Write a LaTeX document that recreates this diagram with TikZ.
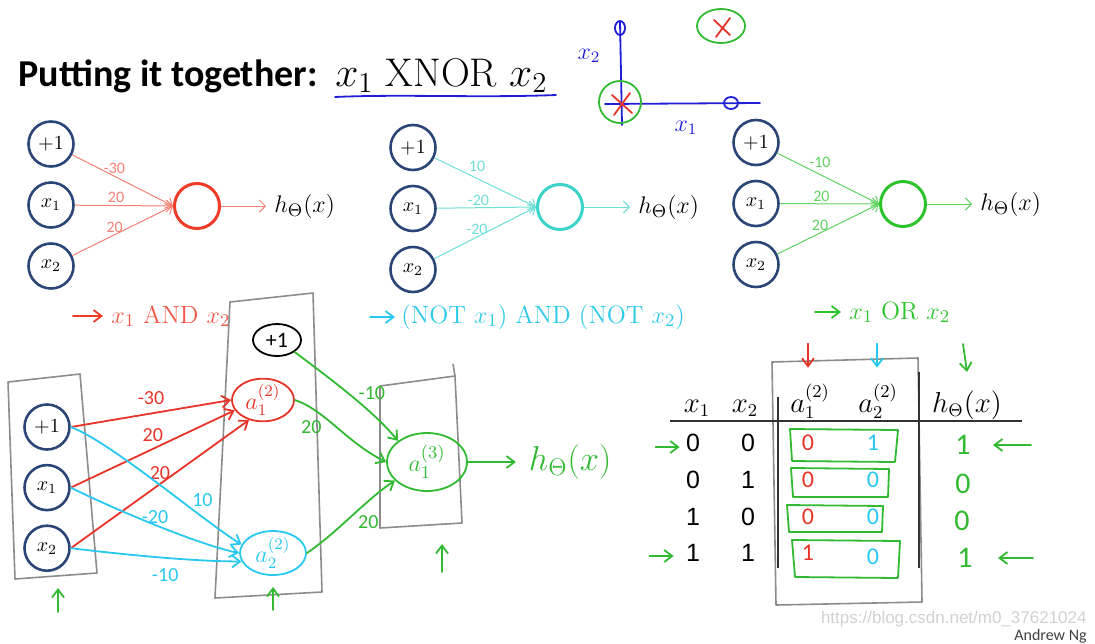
\documentclass[tikz,border=0pt]{standalone}
\usepackage{amsmath}
\usepackage{fontspec}
\setsansfont{Carlito}
\newfontfamily\tabfont{Liberation Sans}
\usetikzlibrary{arrows.meta,positioning,shapes.geometric,calc}
\definecolor{NodeBlue}{RGB}{43,70,118}
\definecolor{AndRed}{RGB}{238,60,40}
\definecolor{NotCyan}{RGB}{60,212,200}
\definecolor{OrGreen}{RGB}{45,195,45}
\definecolor{PenRed}{RGB}{232,52,40}
\definecolor{PenCyan}{RGB}{40,200,240}
\definecolor{PenGreen}{RGB}{50,185,50}
\definecolor{PenBlue}{RGB}{30,30,215}
\definecolor{BoxGrey}{RGB}{140,140,140}
\newcommand{\fsz}[1]{\fontsize{#1}{#1}\selectfont}

\begin{document}
\begin{tikzpicture}[
    x=0.5pt, y=-0.5pt,
    inp/.style={circle, draw=NodeBlue, line width=1.3pt, minimum size=22.5pt, inner sep=0pt, font=\fsz{10}},
    outp/.style={circle, line width=1.5pt, minimum size=22.5pt, inner sep=0pt},
    wgt/.style={font=\sffamily\fsz{8}, inner sep=1pt},
    net/.style={-{Straight Barb[length=3pt]}, line width=0.5pt},
    hlabel/.style={font=\fsz{12.5}, inner sep=0pt},
    pen/.style={line width=0.9pt, line cap=round, line join=round},
    penarr/.style={pen, -{Straight Barb[length=4pt, width=6pt]}},
    hand/.style={font=\sffamily\fsz{10}, inner sep=1pt},
    sketch/.style={draw=BoxGrey, line width=0.8pt, line join=round},
    unit/.style={ellipse, line width=0.9pt, inner sep=0pt},
    tmath/.style={font=\fsz{13.5}, anchor=base, inner sep=0pt},
    tdigit/.style={font=\tabfont\fsz{12.5}, inner sep=0pt},
    tpen/.style={font=\sffamily\fsz{12}, inner sep=0pt}
]
    \useasboundingbox (0,0) rectangle (1095,643);

    % title
    \node[font=\sffamily\bfseries\fsz{19}, anchor=base west, inner sep=0pt] (title) at (18,86) {Putting it together:};
    \node[font=\fsz{20}, anchor=base west, inner sep=0pt] (xnor) at (335,86) {$x_1$ XNOR $x_2$};
    \draw[pen, PenBlue] (335,97) .. controls (400,94) and (480,98) .. (556,95);

    % little x1-x2 plot
    \draw[pen, PenBlue] (620,22) -- (622,125);
    \draw[pen, PenBlue] (605,104) -- (760,103);
    \draw[pen, PenBlue] (620,28) ellipse (5 and 7);
    \draw[pen, PenBlue] (731,103) ellipse (7 and 6);
    \draw[pen, PenRed] (612,95) -- (632,113) (630,93) -- (614,115);
    \draw[pen, PenGreen] (620,102) ellipse (21 and 21);
    \draw[pen, PenRed] (714,20) -- (730,35) (730,18) -- (716,37);
    \draw[pen, PenGreen] (721,26) ellipse (24 and 17);
    \node[font=\fsz{12}, text=PenBlue] (px2) at (589,56) {$x_2$};
    \node[font=\fsz{12}, text=PenBlue] (px1) at (686,128) {$x_1$};

    % AND unit
    \node[inp] (and0) at (51,144) {$+1$};
    \node[inp, below=6.7pt of and0] (and1) {$x_1$};
    \node[inp, below=6.7pt of and1] (and2) {$x_2$};
    \node[outp, draw=AndRed] (andout) at (197,206) {};
    \node[hlabel, right=26.5pt of andout] (andh) {$h_\Theta(x)$};
    \draw[net, AndRed!65] (and0) -- node[wgt, pos=0.42, above] {-30} (andout.west);
    \draw[net, AndRed!65] (and1) -- node[wgt, pos=0.42, above] {20} (andout.west);
    \draw[net, AndRed!65] (and2) -- node[wgt, pos=0.42, above] {20} (andout.west);
    \draw[net, AndRed!65, shorten >=4pt] (andout) -- (andh);

    % (NOT x1) AND (NOT x2) unit
    \node[inp] (not0) at (413,147.5) {$+1$};
    \node[inp, below=6.7pt of not0] (not1) {$x_1$};
    \node[inp, below=6.7pt of not1] (not2) {$x_2$};
    \node[outp, draw=NotCyan] (notout) at (560,207) {};
    \node[hlabel, right=27pt of notout] (noth) {$h_\Theta(x)$};
    \draw[net, NotCyan!75] (not0) -- node[wgt, pos=0.42, above=2pt] {10} (notout.west);
    \draw[net, NotCyan!75] (not1) -- node[wgt, pos=0.42, above] {-20} (notout.west);
    \draw[net, NotCyan!75] (not2) -- node[wgt, pos=0.42, above] {-20} (notout.west);
    \draw[net, NotCyan!75, shorten >=4pt] (notout) -- (noth);

    % OR unit
    \node[inp] (or0) at (756,142.5) {$+1$};
    \node[inp, below=6.7pt of or0] (or1) {$x_1$};
    \node[inp, below=6.7pt of or1] (or2) {$x_2$};
    \node[outp, draw=OrGreen] (orout) at (903,204) {};
    \node[hlabel, right=26.5pt of orout] (orh) {$h_\Theta(x)$};
    \draw[net, OrGreen!75] (or0) -- node[wgt, pos=0.42, above=2pt] {-10} (orout.west);
    \draw[net, OrGreen!75] (or1) -- node[wgt, pos=0.42, above] {20} (orout.west);
    \draw[net, OrGreen!75] (or2) -- node[wgt, pos=0.42, above] {20} (orout.west);
    \draw[net, OrGreen!75, shorten >=4pt] (orout) -- (orh);

    % what each unit computes
    \node[font=\fsz{12.5}, text=AndRed!85, anchor=west, inner sep=0pt] (andlbl) at (111,316) {$x_1$ AND $x_2$};
    \node[font=\fsz{12.5}, text=PenCyan!80!NotCyan, anchor=west, inner sep=0pt] (notlbl) at (401,317) {(NOT $x_1$) AND (NOT $x_2$)};
    \node[font=\fsz{12.5}, text=OrGreen, anchor=west, inner sep=0pt] (orlbl) at (849,312) {$x_1$ OR $x_2$};
    \coordinate (andarr) at (73,316);
    \coordinate (notarr) at (370,317);
    \coordinate (orarr) at (815,312);
    \draw[penarr, AndRed] (andarr) -- ([xshift=-4pt]andlbl.west);
    \draw[penarr, PenCyan] (notarr) -- ([xshift=-3pt]notlbl.west);
    \draw[penarr, OrGreen] (orarr) -- ([xshift=-4pt]orlbl.west);

    % layer boxes
    \draw[sketch] (8,382) -- (80,374) -- (97,573) -- (15,579) -- cycle;
    \draw[sketch] (230,302) -- (313,293) -- (322,592) -- (215,598) -- cycle;
    \draw[sketch] (380,386) -- (455,376) -- (462,523) -- (380,528) -- cycle;
    \draw[sketch] (455,376) -- (453,364);

    % XNOR network
    \node[inp] (in0) at (47,427) {$+1$};
    \node[inp, below=6.5pt of in0] (in1) {$x_1$};
    \node[inp, below=6.5pt of in1] (in2) {$x_2$};
    \node[unit, draw=black, minimum width=24pt, minimum height=16pt, font=\sffamily\fsz{11}] (hb) at (277,340) {+1};
    \node[unit, draw=PenRed, text=PenRed, minimum width=31pt, minimum height=20pt, font=\fsz{12}] (h1) at (263,400) {$a^{(2)}_1$};
    \node[unit, draw=PenCyan, text=PenCyan, minimum width=33pt, minimum height=22pt, font=\fsz{12}] (h2) at (273,553) {$a^{(2)}_2$};
    \node[unit, draw=PenGreen, text=PenGreen, minimum width=40pt, minimum height=29pt, font=\fsz{13}] (y1) at (427,462) {$a^{(3)}_1$};
    \node[font=\fsz{17}, text=PenGreen, right=27pt of y1] (yh) {$h_\Theta(x)$};

    \draw[penarr, PenRed] (in0.east) -- node[hand, above=3pt] {-30} (h1.west);
    \draw[penarr, PenRed] (in1.east) -- node[hand, above=2pt] {20} (h1.200);
    \draw[penarr, PenRed] (in2.east) -- node[hand, above=1pt] {20} (h1.235);
    \draw[penarr, PenCyan] (in0.east) .. controls +(40,15) and +(-40,-25) .. node[hand, pos=0.68, above right=-1pt] {10} (h2.165);
    \draw[penarr, PenCyan] (in1.east) .. controls +(40,20) and +(-40,-8) .. node[hand, pos=0.5, above=-1pt] {-20} (h2.180);
    \draw[penarr, PenCyan] (in2.east) .. controls +(50,6) and +(-50,0) .. node[hand, pos=0.55, below=4pt] {-10} (h2.195);
    \draw[penarr, PenGreen] (hb.south east) .. controls +(40,30) and +(-25,-30) .. node[hand, pos=0.55, above right=-1pt] {-10} (y1.north west);
    \draw[penarr, PenGreen] (h1.east) .. controls +(30,10) and +(-40,-20) .. node[hand, pos=0.35, below left=0pt] {20} (y1.west);
    \draw[penarr, PenGreen] (h2.east) .. controls +(30,-20) and +(-30,20) .. node[hand, pos=0.55, below right=0pt] {20} (y1.210);
    \draw[penarr, PenGreen, shorten >=3pt] (y1) -- (yh);

    % arrows under the layers
    \draw[penarr, PenGreen] (58,612) -- (58,588);
    \draw[penarr, PenGreen] (273,610) -- (273,587);
    \draw[penarr, PenGreen] (442,572) -- (442,544);

    % truth table
    \draw[sketch] (772,362) -- (918,358) -- (922,602) -- (776,605) -- cycle;
    \node[tmath] (tx1) at (697,412) {$x_1$};
    \node[tmath] (tx2) at (745,412) {$x_2$};
    \node[tmath] (ta1) at (810,412) {$a^{(2)}_1$};
    \node[tmath] (ta2) at (878,412) {$a^{(2)}_2$};
    \node[tmath] (th) at (967,412) {$h_\Theta(x)$};
    \draw[line width=1pt, black!80] (670,421) -- (1022,421);
    \draw[line width=1pt, black!80] (778,397) -- (778,568);
    \draw[line width=1pt, black!80] (919,372) -- (919,568);

    \node[tdigit] (r1x1) at (693,443) {0};
    \node[tdigit] (r1x2) at (748,443) {0};
    \node[tdigit] (r2x1) at (693,480) {0};
    \node[tdigit] (r2x2) at (748,480) {1};
    \node[tdigit] (r3x1) at (693,517) {1};
    \node[tdigit] (r3x2) at (748,517) {0};
    \node[tdigit] (r4x1) at (693,553) {1};
    \node[tdigit] (r4x2) at (748,553) {1};

    \node[tpen, text=PenRed] (r1a1) at (808,443) {0};
    \node[tpen, text=PenCyan] (r1a2) at (873,443) {1};
    \node[tpen, text=PenRed] (r2a1) at (808,480) {0};
    \node[tpen, text=PenCyan] (r2a2) at (873,480) {0};
    \node[tpen, text=PenRed] (r3a1) at (808,517) {0};
    \node[tpen, text=PenCyan] (r3a2) at (873,517) {0};
    \node[tpen, text=PenRed] (r4a1) at (808,553) {1};
    \node[tpen, text=PenCyan] (r4a2) at (873,557) {0};

    \node[tpen, font=\sffamily\fsz{15}, text=PenGreen] (r1h) at (963,445) {1};
    \node[tpen, font=\sffamily\fsz{15}, text=PenGreen] (r2h) at (963,484) {0};
    \node[tpen, font=\sffamily\fsz{15}, text=PenGreen] (r3h) at (962,521) {0};
    \node[tpen, font=\sffamily\fsz{15}, text=PenGreen] (r4h) at (965,558) {1};

    \draw[pen, PenGreen] (790,429) -- (898,430) -- (895,462) -- (792,461) -- cycle;
    \draw[pen, PenGreen] (791,468) -- (889,469) -- (888,497) -- (793,497) -- cycle;
    \draw[pen, PenGreen] (787,505) -- (883,506) -- (882,532) -- (789,532) -- cycle;
    \draw[pen, PenGreen] (792,540) -- (900,541) -- (898,578) -- (795,577) -- cycle;

    \draw[penarr, PenRed] ($(ta1.north)+(-2,-40)$) -- ($(ta1.north)+(-2,-16)$);
    \draw[penarr, PenCyan] ($(ta2.north)+(-1,-40)$) -- ($(ta2.north)+(-1,-16)$);
    \draw[penarr, PenGreen] ($(th.north)+(-4,-46)$) -- ($(th.north)+(0,-18)$);
    \draw[penarr, PenGreen] ($(r1x1.west)+(-30,4)$) -- ($(r1x1.west)+(-6,4)$);
    \draw[penarr, PenGreen] ($(r4x1.west)+(-36,3)$) -- ($(r4x1.west)+(-12,3)$);
    \draw[penarr, PenGreen] ($(r1h.east)+(60,0)$) -- ($(r1h.east)+(22,0)$);
    \draw[penarr, PenGreen] ($(r4h.east)+(60,0)$) -- ($(r4h.east)+(25,0)$);

    % footer
    \node[font=\tabfont\fsz{8.5}, text=black!18, anchor=east, inner sep=0pt] (wm) at (1087,619) {https://blog.csdn.net/m0\_37621024};
    \node[font=\sffamily\fsz{8}, text=black!75, anchor=east, inner sep=0pt] (author) at (1087,636) {Andrew Ng};
\end{tikzpicture}
\end{document}
